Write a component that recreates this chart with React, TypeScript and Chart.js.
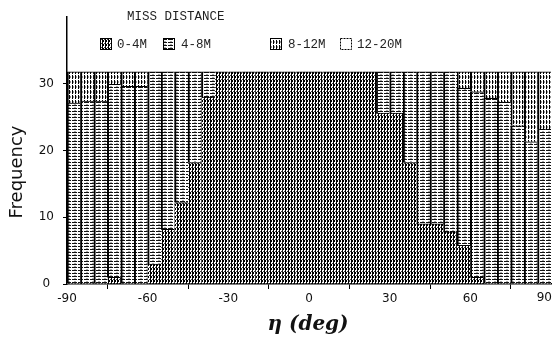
import React, { useEffect, useRef } from 'react';
import { Chart, registerables } from 'chart.js';

Chart.register(...registerables);

// 5-degree bins of eta (deg), bin centres
const binCenters = [
  -87.5, -82.5, -77.5, -72.5, -67.5, -62.5, -57.5, -52.5, -47.5, -42.5, -37.5, -32.5,
  -27.5, -22.5, -17.5, -12.5, -7.5, -2.5, 2.5, 7.5, 12.5, 17.5, 22.5, 27.5,
  32.5, 37.5, 42.5, 47.5, 52.5, 57.5, 62.5, 67.5, 72.5, 77.5, 82.5, 87.5,
];

// visible stacked frequencies (bars are cut at the top of the drawing, ~31.8)
const miss0to4 = [
  0, 0, 0, 1, 0, 0, 3, 8.2, 12.2, 18.2, 28, 31.8,
  31.8, 31.8, 31.8, 31.8, 31.8, 31.8, 31.8, 31.8, 31.8, 31.8, 31.8, 25.6,
  25.6, 18.2, 9, 9, 7.8, 5.8, 1, 0, 0, 0, 0, 0,
];
const miss4to8 = [
  27.1, 27.4, 27.4, 28.9, 29.6, 29.6, 28.8, 23.6, 19.6, 13.6, 3.8, 0,
  0, 0, 0, 0, 0, 0, 0, 0, 0, 0, 0, 6.2,
  6.2, 13.6, 22.8, 22.8, 24, 23.5, 27.8, 27.8, 27.2, 23.7, 21.3, 23.2,
];
const miss8to12 = [
  4.7, 4.4, 4.4, 1.9, 2.2, 2.2, 0, 0, 0, 0, 0, 0,
  0, 0, 0, 0, 0, 0, 0, 0, 0, 0, 0, 0,
  0, 0, 0, 0, 0, 2.5, 3.0, 4.0, 4.6, 8.1, 10.5, 8.6,
];
const miss12to20 = [
  0, 0, 0, 0, 0, 0, 0, 0, 0, 0, 0, 0,
  0, 0, 0, 0, 0, 0, 0, 0, 0, 0, 0, 0,
  0, 0, 0, 0, 0, 0, 0, 0, 0, 0, 0, 0,
];

const seriesLabels = ['0-4M', '4-8M', '8-12M', '12-20M'];
const legendTitle = 'MISS DISTANCE';
const xTickValues = [-90, -60, -30, 0, 30, 60, 90];
const yTickValues = [0, 10, 20, 30];
const xTitle = 'η (deg)';
const yTitle = 'Frequency';

function makePattern(w: number, h: number, draw: (c: CanvasRenderingContext2D) => void) {
  const c = document.createElement('canvas');
  c.width = w;
  c.height = h;
  const g = c.getContext('2d')!;
  g.fillStyle = '#ffffff';
  g.fillRect(0, 0, w, h);
  g.fillStyle = '#000000';
  draw(g);
  const main = document.createElement('canvas').getContext('2d')!;
  return main.createPattern(c, 'repeat')!;
}

export default function App() {
  const ref = useRef<HTMLCanvasElement>(null);

  useEffect(() => {
    const canvas = ref.current!;

    const pDense = makePattern(3, 4, (g) => {
      g.fillRect(0, 0, 1, 4);
      g.fillRect(1, 0, 1, 2);
      g.fillStyle = '#444';
      g.fillRect(2, 3, 1, 1);
    });
    const pHoriz = makePattern(6, 3, (g) => {
      g.fillStyle = '#111';
      g.fillRect(0, 0, 5, 1);
      g.fillStyle = '#aaa';
      g.fillRect(2, 2, 2, 1);
    });
    const pVert = makePattern(3, 5, (g) => {
      g.fillStyle = '#000';
      g.fillRect(0, 0, 1, 4);
      g.fillStyle = '#999';
      g.fillRect(1, 1, 1, 2);
    });
    const patterns: (string | CanvasPattern)[] = [pDense, pHoriz, pVert, '#ffffff'];
    const series = [miss0to4, miss4to8, miss8to12, miss12to20];

    const datasets = series.map((vals, k) => ({
      label: seriesLabels[k],
      data: vals.map((v, i) => ({ x: binCenters[i], y: v })),
      backgroundColor: patterns[k],
      borderColor: '#000000',
      borderWidth: k === 0 ? { left: 0, right: 0, top: 1, bottom: 0 } : { left: 2, right: 0, top: 1, bottom: 0 },
      borderSkipped: false as const,
      categoryPercentage: 1,
      barPercentage: 1,
    }));

    const textPlugin = {
      id: 'annotText',
      afterDraw(chart: any) {
        const ctx: CanvasRenderingContext2D = chart.ctx;
        ctx.save();
        ctx.fillStyle = '#111';
        // y title
        ctx.save();
        ctx.translate(17, 172);
        ctx.rotate(-Math.PI / 2);
        ctx.font = '18px "DejaVu Sans"';
        ctx.textAlign = 'center';
        ctx.textBaseline = 'middle';
        ctx.fillText(yTitle, 0, 0);
        ctx.restore();
        // last x tick label kept inside the picture
        ctx.font = '12px "DejaVu Sans"';
        ctx.textAlign = 'right';
        ctx.textBaseline = 'top';
        ctx.fillText(String(xTickValues[xTickValues.length - 1]), 552, 292);
        // x title
        ctx.font = 'bold italic 20px "DejaVu Serif"';
        ctx.textAlign = 'center';
        ctx.textBaseline = 'middle';
        ctx.fillText(xTitle, 308, 325);
        // legend
        ctx.font = '12.5px "Liberation Mono"';
        ctx.textAlign = 'left';
        ctx.textBaseline = 'middle';
        ctx.fillStyle = '#222';
        ctx.fillText(legendTitle, 127, 17);
        const iconX = [100, 163, 270, 340];
        const textX = [117, 181, 288, 357];
        for (let k = 0; k < seriesLabels.length; k++) {
          ctx.fillStyle = patterns[k] as any;
          ctx.fillRect(iconX[k], 38, 12, 12);
          ctx.strokeStyle = '#000';
          ctx.lineWidth = 1;
          if (k === 3) ctx.setLineDash([2, 1]);
          ctx.strokeRect(iconX[k] + 0.5, 38.5, 11, 11);
          ctx.setLineDash([]);
          ctx.fillStyle = '#222';
          ctx.fillText(seriesLabels[k], textX[k], 45);
        }
        ctx.restore();
      },
    };

    const chart = new Chart(canvas, {
      type: 'bar',
      data: { datasets },
      plugins: [textPlugin],
      options: {
        animation: false,
        responsive: false,
        devicePixelRatio: 1,
        layout: { padding: { left: 0, right: 1, top: 17, bottom: 0 } },
        plugins: { legend: { display: false }, tooltip: { enabled: false } },
        scales: {
          x: {
            type: 'linear',
            stacked: true,
            min: -90,
            max: 90,
            offset: false,
            afterBuildTicks: (s: any) => {
              s.ticks = xTickValues.map((v) => ({ value: v }));
            },
            ticks: {
              color: '#111',
              font: { family: '"DejaVu Sans"', size: 12 },
              padding: 3,
              maxRotation: 0,
              autoSkip: false,
              callback: (v: any) => (v === xTickValues[xTickValues.length - 1] ? '' : String(v)),
            },
            grid: {
              display: true,
              drawOnChartArea: false,
              drawTicks: true,
              tickLength: 5,
              color: '#000',
            },
            border: { display: true, color: '#000', width: 1.5 },
            afterFit: (s: any) => {
              s.height = 352 - 284;
              s.paddingLeft = 0;
              s.paddingRight = 0;
            },
          },
          y: {
            type: 'linear',
            stacked: true,
            min: 0,
            max: 40,
            afterBuildTicks: (s: any) => {
              s.ticks = yTickValues.map((v) => ({ value: v }));
            },
            ticks: {
              color: '#111',
              font: { family: '"DejaVu Sans"', size: 12 },
              padding: 9,
              crossAlign: 'center',
            },
            grid: {
              display: true,
              drawOnChartArea: false,
              drawTicks: true,
              tickLength: 4,
              color: '#000',
            },
            border: { display: true, color: '#000', width: 1.5 },
            afterFit: (s: any) => {
              s.width = 67;
              s.paddingTop = 0;
              s.paddingBottom = 0;
            },
          },
        },
      },
    });
    return () => chart.destroy();
  }, []);

  return (
    <div style={{ position: 'fixed', left: 0, top: 0, width: 552, height: 352, background: '#fff' }}>
      <canvas ref={ref} width={552} height={352} style={{ display: 'block', width: 552, height: 352 }} />
    </div>
  );
}
